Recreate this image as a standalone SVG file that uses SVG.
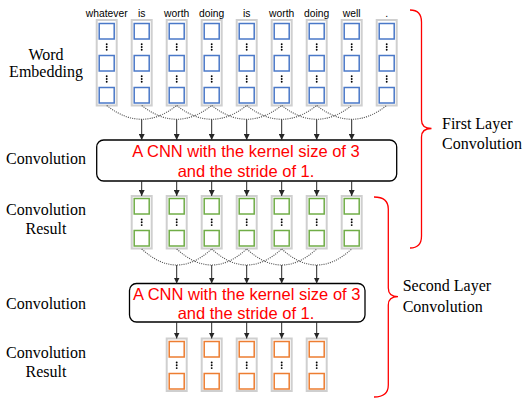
<svg xmlns="http://www.w3.org/2000/svg" width="524" height="399" viewBox="0 0 524 399">
<defs>
<style>
.lbl{font-family:"Liberation Serif","Times New Roman",serif;font-size:16px;fill:#000}
.word{font-family:"Liberation Sans",Arial,sans-serif;font-size:10.3px;fill:#000;text-anchor:middle}
.cnn{font-family:"Liberation Sans",Arial,sans-serif;font-size:16.5px;fill:#ff0000;text-anchor:middle}
.col{fill:#ffffff;stroke:#cfcfcf;stroke-width:2}
.bb{fill:#ffffff;stroke:#4a78c8;stroke-width:1.5}
.gb{fill:#ffffff;stroke:#70ad47;stroke-width:1.5}
.ob{fill:#ffffff;stroke:#ed7d31;stroke-width:1.5}
.box{fill:#ffffff;stroke:#000;stroke-width:1.3}
.dot{fill:#000}
.curve{fill:none;stroke:#555555;stroke-width:1.1;stroke-dasharray:1.1 1.1}
.arr{fill:none;stroke:#262626;stroke-width:1;marker-end:url(#ah)}
.brace{fill:none;stroke:#ff0000;stroke-width:1.3}
</style>
<marker id="ah" viewBox="0 0 6 6" refX="6" refY="3" markerWidth="6" markerHeight="6" markerUnits="userSpaceOnUse" orient="auto">
<path d="M0,0 L6,3 L0,6 z" fill="#262626"/>
</marker>
<g id="vdots">
<circle class="dot" cx="0" cy="-2.8" r="0.95"/>
<circle class="dot" cx="0" cy="0" r="0.95"/>
<circle class="dot" cx="0" cy="2.8" r="0.95"/>
</g>
<g id="bcol">
<rect class="col" x="0" y="20" width="20" height="85.5"/>
<rect class="bb" x="2.5" y="23.5" width="15" height="15.5"/>
<rect class="bb" x="2.5" y="55.5" width="15" height="15.5"/>
<rect class="bb" x="2.5" y="87.5" width="15" height="15.5"/>
<use href="#vdots" x="10" y="47"/>
<use href="#vdots" x="10" y="79"/>
</g>
<g id="gcol">
<rect class="col" x="0" y="196" width="20" height="52.5"/>
<rect class="gb" x="2.5" y="198.5" width="15" height="15.5"/>
<rect class="gb" x="2.5" y="230.5" width="15" height="15.5"/>
<use href="#vdots" x="10" y="222.3"/>
</g>
<g id="ocol">
<rect class="col" x="0" y="338.5" width="20" height="52.5"/>
<rect class="ob" x="2.5" y="341.5" width="15" height="15.5"/>
<rect class="ob" x="2.5" y="373.5" width="15" height="15.5"/>
<use href="#vdots" x="10" y="365.3"/>
</g>
</defs>
<rect width="524" height="399" fill="#ffffff"/>

<g id="left-labels">
<text class="lbl" x="46" y="60" text-anchor="middle">Word</text>
<text class="lbl" x="46" y="76.7" text-anchor="middle">Embedding</text>
<text class="lbl" x="46" y="164" text-anchor="middle">Convolution</text>
<text class="lbl" x="46" y="214.5" text-anchor="middle">Convolution</text>
<text class="lbl" x="46" y="233.5" text-anchor="middle">Result</text>
<text class="lbl" x="46" y="308.5" text-anchor="middle">Convolution</text>
<text class="lbl" x="46" y="358" text-anchor="middle">Convolution</text>
<text class="lbl" x="46" y="377" text-anchor="middle">Result</text>
</g>

<g id="words">
<text class="word" x="106.7" y="16.5">whatever</text>
<text class="word" x="141.7" y="16.5">is</text>
<text class="word" x="176.7" y="16.5">worth</text>
<text class="word" x="211.7" y="16.5">doing</text>
<text class="word" x="246.7" y="16.5">is</text>
<text class="word" x="281.7" y="16.5">worth</text>
<text class="word" x="316.7" y="16.5">doing</text>
<text class="word" x="351.7" y="16.5">well</text>
<text class="word" x="386.7" y="16.5">.</text>
</g>

<g id="embedding">
<use href="#bcol" x="96.7"/>
<use href="#bcol" x="131.7"/>
<use href="#bcol" x="166.7"/>
<use href="#bcol" x="201.7"/>
<use href="#bcol" x="236.7"/>
<use href="#bcol" x="271.7"/>
<use href="#bcol" x="306.7"/>
<use href="#bcol" x="341.7"/>
<use href="#bcol" x="376.7"/>
</g>

<g id="conv1">
<rect class="box" x="96.7" y="140" width="300" height="41" rx="7"/>
<text class="cnn" x="246" y="157">A CNN with the kernel size of 3</text>
<text class="cnn" x="246" y="176.5">and the stride of 1.</text>
</g>

<g id="result1">
<use href="#gcol" x="131.7"/>
<use href="#gcol" x="166.7"/>
<use href="#gcol" x="201.7"/>
<use href="#gcol" x="236.7"/>
<use href="#gcol" x="271.7"/>
<use href="#gcol" x="306.7"/>
<use href="#gcol" x="341.7"/>
</g>

<g id="conv2">
<rect class="box" x="129.5" y="283.5" width="235.5" height="38.5" rx="7"/>
<text class="cnn" x="246.7" y="300">A CNN with the kernel size of 3</text>
<text class="cnn" x="246" y="318.5">and the stride of 1.</text>
</g>

<g id="result2">
<use href="#ocol" x="166.7"/>
<use href="#ocol" x="201.7"/>
<use href="#ocol" x="236.7"/>
<use href="#ocol" x="271.7"/>
<use href="#ocol" x="306.7"/>
</g>

<g id="connectors">
<path class="curve" d="M106.7,105.5 Q141.7,133 176.7,105.5"/>
<path class="curve" d="M141.7,105.5 Q176.7,133 211.7,105.5"/>
<path class="curve" d="M176.7,105.5 Q211.7,133 246.7,105.5"/>
<path class="curve" d="M211.7,105.5 Q246.7,133 281.7,105.5"/>
<path class="curve" d="M246.7,105.5 Q281.7,133 316.7,105.5"/>
<path class="curve" d="M281.7,105.5 Q316.7,133 351.7,105.5"/>
<path class="curve" d="M316.7,105.5 Q351.7,133 386.7,105.5"/>
<path class="arr" d="M141.7,119.3 V140"/>
<path class="arr" d="M176.7,119.3 V140"/>
<path class="arr" d="M211.7,119.3 V140"/>
<path class="arr" d="M246.7,119.3 V140"/>
<path class="arr" d="M281.7,119.3 V140"/>
<path class="arr" d="M316.7,119.3 V140"/>
<path class="arr" d="M351.7,119.3 V140"/>

<path class="arr" d="M141.7,181 V196"/>
<path class="arr" d="M176.7,181 V196"/>
<path class="arr" d="M211.7,181 V196"/>
<path class="arr" d="M246.7,181 V196"/>
<path class="arr" d="M281.7,181 V196"/>
<path class="arr" d="M316.7,181 V196"/>
<path class="arr" d="M351.7,181 V196"/>

<path class="curve" d="M141.7,249 Q176.7,281 211.7,249"/>
<path class="curve" d="M176.7,249 Q211.7,281 246.7,249"/>
<path class="curve" d="M211.7,249 Q246.7,281 281.7,249"/>
<path class="curve" d="M246.7,249 Q281.7,281 316.7,249"/>
<path class="curve" d="M281.7,249 Q316.7,281 351.7,249"/>
<path class="arr" d="M176.7,265 V283.5"/>
<path class="arr" d="M211.7,265 V283.5"/>
<path class="arr" d="M246.7,265 V283.5"/>
<path class="arr" d="M281.7,265 V283.5"/>
<path class="arr" d="M316.7,265 V283.5"/>

<path class="arr" d="M176.7,322 V338.5"/>
<path class="arr" d="M211.7,322 V338.5"/>
<path class="arr" d="M246.7,322 V338.5"/>
<path class="arr" d="M281.7,322 V338.5"/>
<path class="arr" d="M316.7,322 V338.5"/>
</g>

<g id="first-layer">
<path class="brace" d="M410,10 Q421.5,10 421.5,22 L421.5,120 Q421.5,128.5 431.5,128.5 Q421.5,128.5 421.5,137 L421.5,236 Q421.5,248 410,248"/>
<text class="lbl" x="442" y="128.5">First Layer</text>
<text class="lbl" x="442" y="149">Convolution</text>
</g>

<g id="second-layer">
<path class="brace" d="M374,197 Q388.3,197 388.3,209 L388.3,288 Q388.3,296.7 398,296.7 Q388.3,296.7 388.3,305 L388.3,385 Q388.3,397 374,397"/>
<text class="lbl" x="402.7" y="291">Second Layer</text>
<text class="lbl" x="402.7" y="312">Convolution</text>
</g>
</svg>
